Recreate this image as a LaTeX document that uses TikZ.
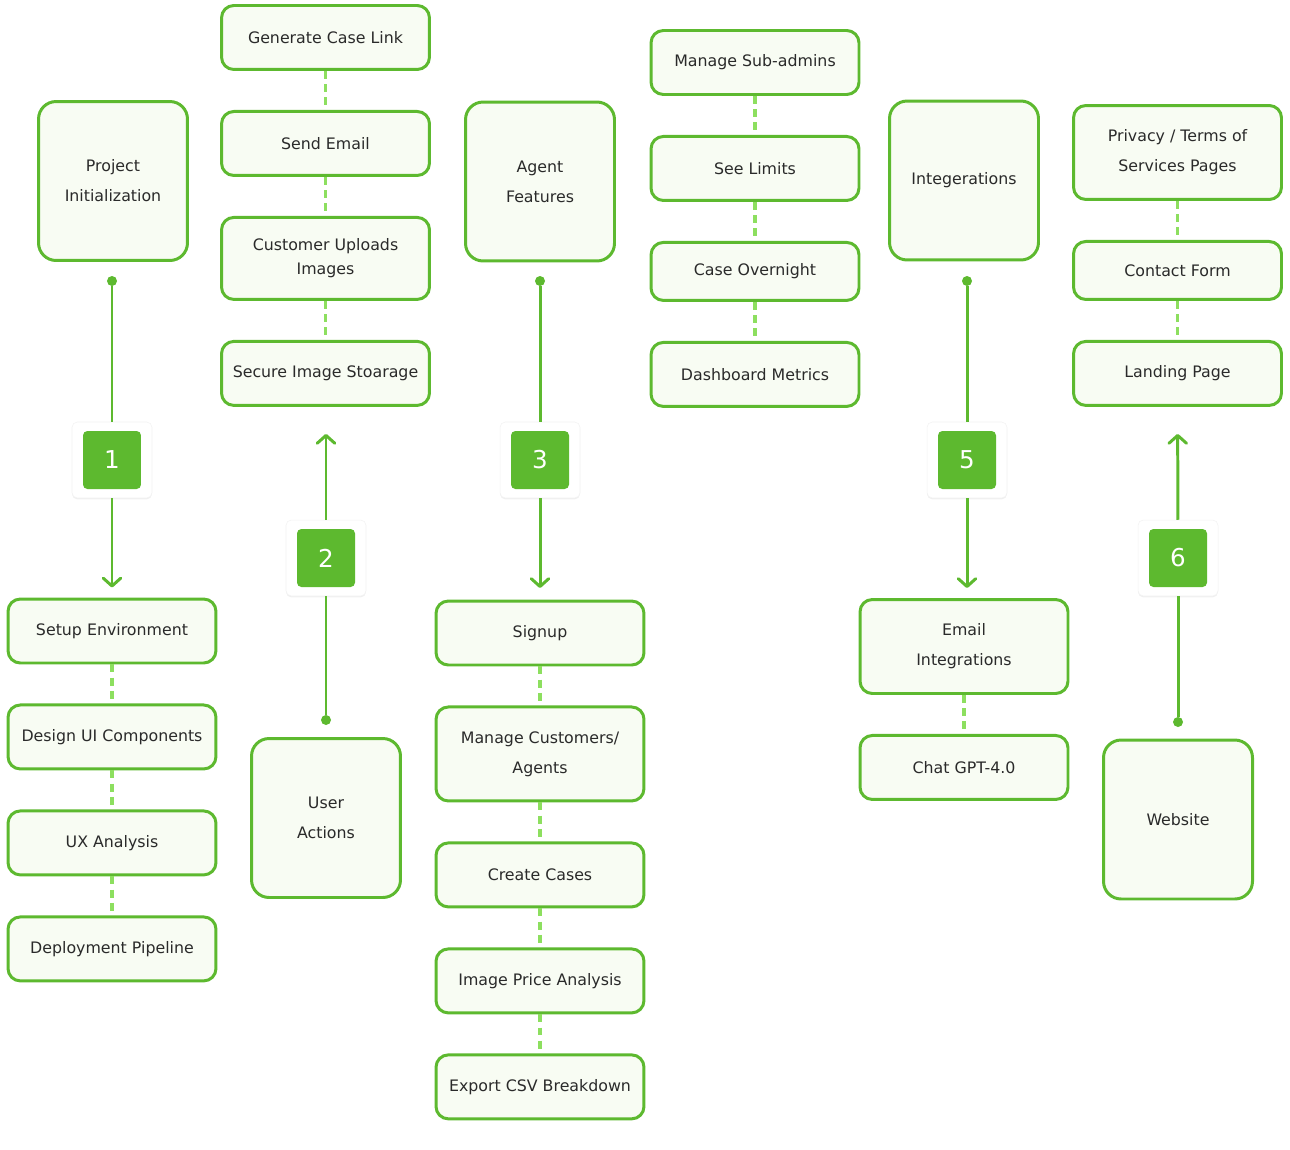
\documentclass[tikz,border=0pt]{standalone}
\usepackage{fontspec}
\setmainfont{DejaVu Sans}
\usepackage{xcolor}
\usetikzlibrary{arrows.meta, positioning, shadows}

\definecolor{leaf}{HTML}{5DB92F}
\definecolor{leaffill}{HTML}{F8FCF3}
\definecolor{dashgreen}{HTML}{8DDF5F}
\definecolor{inkgray}{HTML}{2A2A2A}

\begin{document}
\begin{tikzpicture}[
  x=0.02cm, y=-0.02cm,
  node distance=0.78cm,
  taskbox/.style={draw=leaf, line width=1.7pt, fill=leaffill, rounded corners=7pt,
              minimum width=4.16cm, minimum height=1.28cm, align=center,
              text=inkgray, font=\fontsize{9}{17}\selectfont},
  tallbox/.style={taskbox, minimum height=1.88cm},
  lowbox/.style={taskbox, minimum height=1.16cm},
  phasebox/.style={taskbox, rounded corners=10pt, minimum width=2.98cm, minimum height=3.18cm},
  holder/.style={fill=white, draw=black!5, line width=0.3pt, rounded corners=3pt,
              minimum width=1.6cm, minimum height=1.52cm,
              drop shadow={opacity=0.12, shadow xshift=0pt, shadow yshift=-0.8pt}},
  badge/.style={fill=leaf, rounded corners=2.5pt, minimum size=1.16cm, inner sep=0pt,
              text=white, font=\fontsize{14}{16}\selectfont},
  dot/.style={circle, fill=leaf, inner sep=0pt, minimum size=0.2cm},
  link/.style={draw=leaf, line width=1.7pt},
  arr/.style={link, -{Straight Barb[length=4.5pt, width=10pt, round]}},
  dashlink/.style={draw=dashgreen, line width=2pt, dash pattern=on 4.5pt off 3pt}
]
\useasboundingbox (0,0) rectangle (1290,1149);

% phase 1
\node[phasebox] (proj) at (113,181) {Project\\Initialization};
\node[dot] (d1) at (112,281) {};
\node[holder] (h1) at (112,460) {};
\node[badge] (b1) at (h1) {1};
\node[taskbox] (setup) at (112,631) {Setup Environment};
\node[taskbox, below=of setup] (design) {Design UI Components};
\node[taskbox, below=of design] (ux) {UX Analysis};
\node[taskbox, below=of ux] (deploy) {Deployment Pipeline};

% phase 2
\node[taskbox] (caselink) at (325.5,37.5) {Generate Case Link};
\node[taskbox, below=of caselink] (sendmail) {Send Email};
\node[taskbox, minimum height=1.64cm, below=of sendmail] (uploads) {Customer Uploads\\[-3.4pt]Images};
\node[taskbox, below=of uploads] (storage) {Secure Image Stoarage};
\node[holder] (h2) at (326,558) {};
\node[badge] (b2) at (h2) {2};
\node[dot] (d2) at (326,720) {};
\node[phasebox] (user) at (326,818) {User\\Actions};

% phase 3
\node[phasebox] (agent) at (540,181.5) {Agent\\Features};
\node[dot] (d3) at (540,281) {};
\node[holder] (h3) at (540,460) {};
\node[badge] (b3) at (h3) {3};
\node[taskbox] (signup) at (540,633) {Signup};
\node[tallbox, below=of signup] (manage) {Manage Customers/\\Agents};
\node[taskbox, below=of manage] (cases) {Create Cases};
\node[taskbox, below=of cases] (price) {Image Price Analysis};
\node[taskbox, below=of price] (csv) {Export CSV Breakdown};

% admin column
\node[taskbox] (subadmins) at (755,62.5) {Manage Sub-admins};
\node[taskbox, below=of subadmins] (limits) {See Limits};
\node[lowbox, below=of limits] (overnight) {Case Overnight};
\node[taskbox, below=of overnight] (metrics) {Dashboard Metrics};

% phase 5
\node[phasebox] (integ) at (964,180.5) {Integerations};
\node[dot] (d5) at (967,281) {};
\node[holder] (h5) at (967,460) {};
\node[badge] (b5) at (h5) {5};
\node[tallbox] (emailint) at (964,646.5) {Email\\Integrations};
\node[taskbox, below=of emailint] (chatgpt) {Chat GPT-4.0};

% phase 6
\node[tallbox] (privacy) at (1177.5,152.5) {Privacy / Terms of\\Services Pages};
\node[lowbox, below=of privacy] (contact) {Contact Form};
\node[taskbox, below=of contact] (landing) {Landing Page};
\node[holder] (h6) at (1178,558) {};
\node[badge] (b6) at (h6) {6};
\node[dot] (d6) at (1178,722) {};
\node[phasebox] (website) at (1178,819.5) {Website};

% main connectors
\draw[link] (d1) -- (h1);
\draw[arr, shorten >=0.2cm] (h1) -- (setup);
\draw[link] (d2) -- (h2);
\draw[arr, shorten >=0.54cm] (h2) -- (h2 |- storage.south);
\draw[link] (d3) -- (h3);
\draw[arr, shorten >=0.23cm] (h3) -- (signup);
\draw[link] (d5) -- (h5);
\draw[arr, shorten >=0.2cm] (h5) -- (h5 |- emailint.north);
\draw[link] (d6) -- (h6);
\draw[arr, shorten >=0.54cm] (h6) -- (landing);

% dashed links
\draw[dashlink] (setup) -- (design);
\draw[dashlink] (design) -- (ux);
\draw[dashlink] (ux) -- (deploy);
\draw[dashlink] (caselink) -- (sendmail);
\draw[dashlink] (sendmail) -- (uploads);
\draw[dashlink] (uploads) -- (storage);
\draw[dashlink] (signup) -- (manage);
\draw[dashlink] (manage) -- (cases);
\draw[dashlink] (cases) -- (price);
\draw[dashlink] (price) -- (csv);
\draw[dashlink] (subadmins) -- (limits);
\draw[dashlink] (limits) -- (overnight);
\draw[dashlink] (overnight) -- (metrics);
\draw[dashlink] (emailint) -- (chatgpt);
\draw[dashlink] (privacy) -- (contact);
\draw[dashlink] (contact) -- (landing);
\end{tikzpicture}
\end{document}
